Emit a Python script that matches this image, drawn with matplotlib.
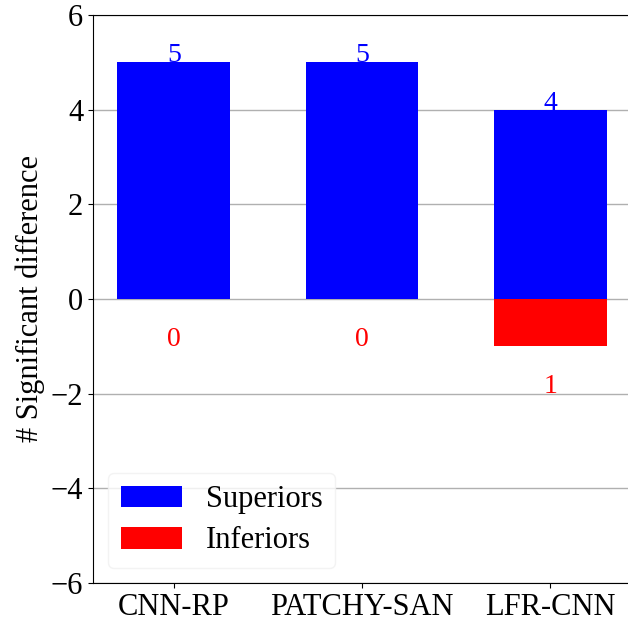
import matplotlib.pyplot as plt
import numpy as np

plt.rcParams["font.family"] = ["Liberation Serif", "DejaVu Serif"]

methods = ["CNN-RP", "PATCHY-SAN", "LFR-CNN"]
superiors = [5, 5, 4]
inferiors = [0, 0, 1]

fig = plt.figure(figsize=(6.28, 6.27), dpi=100)
ax = fig.add_axes([93 / 628, 44 / 627, 538 / 628, 568 / 627])

x = np.arange(len(methods))
width = 0.6
ax.bar(x, superiors, width, color="blue", label="Superiors", zorder=2)
ax.bar(x, [-v for v in inferiors], width, color="red", label="Inferiors", zorder=2)

for xi, v in zip(x, superiors):
    ax.text(xi, v, str(v), color="blue", ha="center", va="baseline", fontsize=20, zorder=3)
for xi, v in zip(x, inferiors):
    ax.text(xi, -v - 0.85, str(v), color="red", ha="center", va="center", fontsize=20, zorder=3)

ax.set_ylim(-6, 6)
ax.set_yticks(range(-6, 7, 2))
ax.set_xticks(x)
ax.set_xticklabels(methods)
ax.tick_params(axis="both", labelsize=22)
ax.set_ylabel("# Significant difference", fontsize=22)
ax.yaxis.grid(True, color="#b0b0b0", linewidth=1, zorder=0)
ax.set_axisbelow(True)

leg = ax.legend(loc="lower left", fontsize=22, handlelength=2.0, framealpha=0.8,
                borderpad=0.4, labelspacing=0.4)
leg.get_frame().set_edgecolor("0.94")

fig.savefig("out.png", dpi=100)
